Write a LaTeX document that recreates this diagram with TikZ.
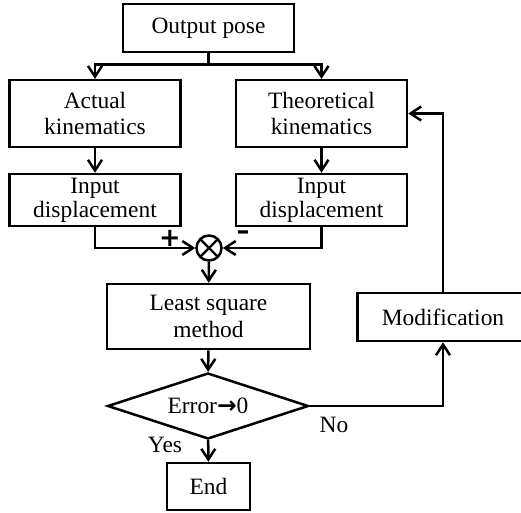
\documentclass[tikz,border=0pt]{standalone}
\usepackage{fontspec}
\setmainfont{Liberation Serif}
\newfontfamily\symfont{DejaVu Sans}
\usetikzlibrary{arrows.meta, positioning, shapes.geometric, calc}

\begin{document}
\begin{tikzpicture}[
  x=0.3mm, y=-0.3mm,
  flowbox/.style={rectangle, draw, line width=0.75mm, minimum width=51.3mm, minimum height=20mm, align=center, inner sep=0pt, font=\fontsize{20}{23}\selectfont},
  decbox/.style={diamond, draw, line width=0.75mm, aspect=3, minimum width=60.3mm, minimum height=19.8mm, inner sep=0pt, font=\fontsize{20}{23}\selectfont},
  sumnode/.style={circle, draw, line width=0.75mm, minimum size=7.5mm, inner sep=0pt,
    path picture={\draw[line width=0.7mm] (path picture bounding box.north west) -- (path picture bounding box.south east) (path picture bounding box.north east) -- (path picture bounding box.south west);}},
  flow/.style={-{Straight Barb[length=3.2mm, width=4.2mm, line width=0.75mm]}, line width=0.75mm},
  lbl/.style={font=\fontsize{20}{23}\selectfont},
  sgn/.style={font=\symfont\bfseries\fontsize{22}{22}\selectfont, inner sep=0pt}
]
  \useasboundingbox (0,0) rectangle (521,512);

  % Main column
  \node[flowbox, minimum height=14.4mm] (pose) at (208.5,28) {Output pose};
  \node[flowbox] (actual) at (95,113.5) {Actual\\kinematics};
  \node[flowbox] (theo) at (321.5,113.5) {Theoretical\\kinematics};
  \node[flowbox, minimum height=15.6mm, font=\fontsize{20}{20.5}\selectfont] (inleft) at (95,200) {Input\\displacement};
  \node[flowbox, minimum height=15.6mm, font=\fontsize{20}{20.5}\selectfont] (inright) at (321.5,200) {Input\\displacement};
  \node[sumnode] (sum) at (209,248) {};
  \node[flowbox, minimum width=60.9mm, minimum height=19.5mm] (lsm) at (208.5,316.5) {Least square\\method};
  \node[decbox] (err) at (208,406) {Error{\symfont\bfseries →}0};
  \node[flowbox, minimum width=24.9mm, minimum height=14.1mm] (stop) at (208.5,486.5) {End};
  \node[flowbox, minimum height=14.4mm] (mod) at (443,317) {Modification};

  % Connectors
  \draw[flow] (pose.south) -- ++(0,11) -| (actual.north);
  \draw[flow] (pose.south) -- ++(0,11) -| (theo.north);
  \draw[flow] (actual) -- (inleft);
  \draw[flow] (theo) -- (inright);
  \draw[flow] (inleft.south) |- (sum.west);
  \draw[flow] (inright.south) |- (sum.east);
  \draw[flow] (sum) -- (lsm);
  \draw[flow] (lsm) -- (err);
  \draw[flow] (err) -- (stop);
  \draw[flow] (err.east) -| (mod.south);
  \draw[flow] (mod.north) |- (theo.east);

  % Labels
  \node[sgn] (plus) at (170,238) {+};
  \node[sgn] (minus) at (243,235) {\textendash};
  \node[lbl] (yes) at (165,445) {Yes};
  \node[lbl] (no) at (334,425) {No};
\end{tikzpicture}
\end{document}
